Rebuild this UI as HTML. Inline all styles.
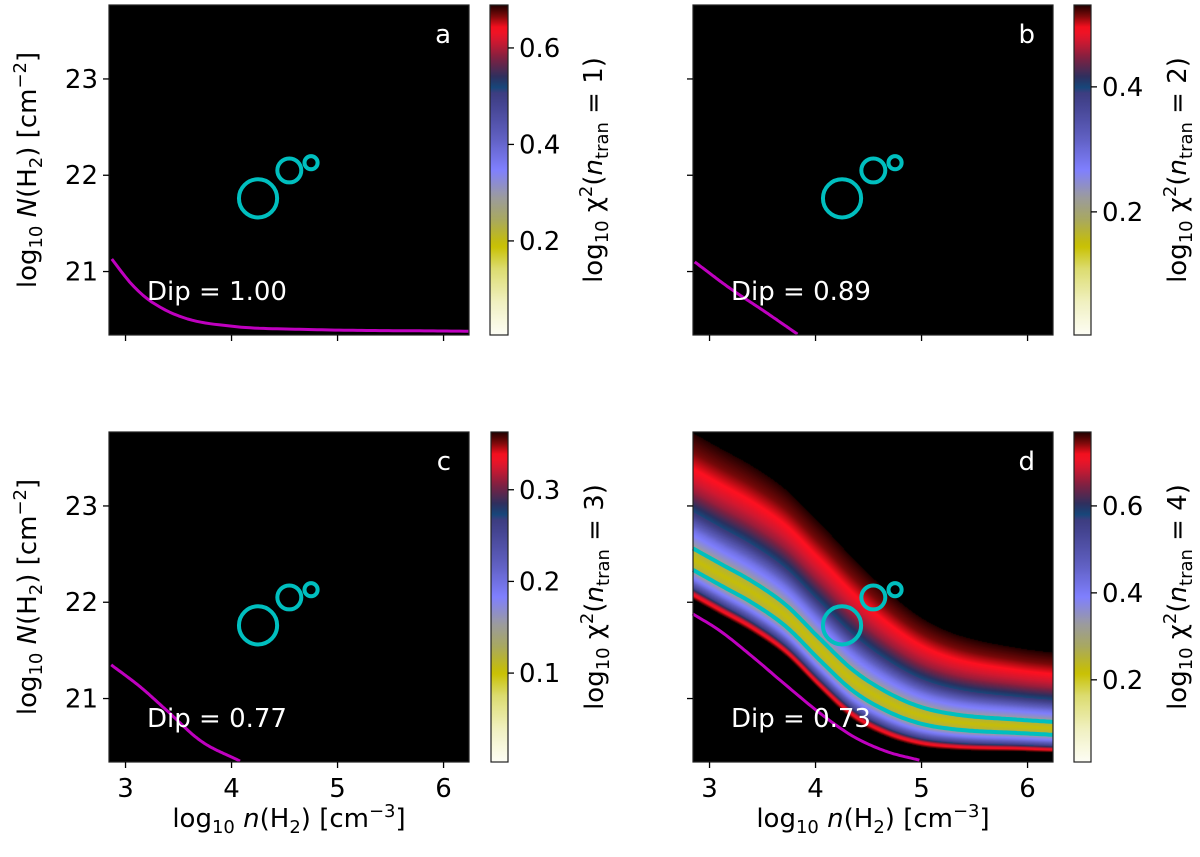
<!DOCTYPE html>
<html><head><meta charset="utf-8"><style>
body{margin:0;background:#fff;width:1200px;height:857px;overflow:hidden;position:relative;font-family:"DejaVu Sans","Liberation Sans",sans-serif}
#heat{position:absolute;left:693px;top:432px}
#chart{position:absolute;left:0;top:0}
text{font-family:"DejaVu Sans","Liberation Sans",sans-serif;fill:#000}
</style></head><body>
<canvas id="heat" width="360" height="330"></canvas>
<svg id="chart" width="1200" height="857" xmlns="http://www.w3.org/2000/svg"></svg>
<script>
// ---- data ----
const xTicks=[3,4,5,6];
const yTicks=[21,22,23];
const circleX=[4.25,4.545,4.75];
const circleN=[21.76,22.05,22.13];
const circleR=[0.18,0.113,0.062];
const magA_x=[2.87,3.06,3.24,3.55,4.02,4.65,6.24];
const magA_N=[21.13,20.865,20.69,20.52,20.43,20.40,20.38];
const magB_x=[2.86,3.2,3.5,3.83];
const magB_N=[21.1,20.82,20.6,20.35];
const magC_x=[2.865,3.14,3.39,3.71,4.08];
const magC_N=[21.35,21.12,20.875,20.56,20.35];
const magD_x=[2.84,3.09,3.41,3.72,4.04,4.35,4.67,4.98];
const magD_N=[21.88,21.71,21.43,21.14,20.85,20.61,20.45,20.36];
const dipLabels=["1.00","0.89","0.77","0.73"];
// panel d chi2 valley
const valleyX=[2.84,3.1,3.41,3.72,4.04,4.35,4.67,4.98,5.3,5.93,6.25];
const valleyN=[22.45,22.29,22.10,21.86,21.51,21.19,20.97,20.83,20.76,20.71,20.69];
const valleyScale=[1,1,1,1,1,0.97,0.88,0.78,0.7,0.62,0.6];
const aboveOff=[0,0.1,0.14,0.3,0.47,0.7,0.9,1.1,1.35];
const aboveVal=[0.22,0.26,0.33,0.42,0.57,0.66,0.71,0.745,0.775];
const belowOff=[0,0.1,0.14,0.22,0.3,0.35,0.38,0.42];
const belowVal=[0.22,0.26,0.33,0.42,0.55,0.69,0.72,0.775];
const contourLevel=0.28;
// colorbars
const cbMin=[0.005,0.003,0.003,0.011];
const cbMax=[0.689,0.531,0.363,0.77];
const cbTicks=[[0.2,0.4,0.6],[0.2,0.4],[0.1,0.2,0.3],[0.2,0.4,0.6]];
const cbTickLabels=[["0.2","0.4","0.6"],["0.2","0.4"],["0.1","0.2","0.3"],["0.2","0.4","0.6"]];
const ntran=["1","2","3","4"];
const cmapPos=[0,0.10,0.20,0.27,0.35,0.42,0.50,0.60,0.70,0.745,0.75,0.78,0.84,0.89,0.93,0.97,1];
const cmapCol=["#fdfdf5","#f0f0c0","#dcdc70","#c8c000","#a8a860","#9a9aa0","#7f7ffe","#5f5fc0","#444490","#3a3a7a","#17477a","#2a3060","#802040","#d01830","#ff1020","#700808","#200000"];

// ---- geometry ----
const XMIN=2.844,XMAX=6.24,NMIN=20.341,NMAX=23.768;
const panels=[
 {id:"a",L:109,R:469,T:5,B:335,cbL:490,cbR:508,mx:magA_x,mn:magA_N},
 {id:"b",L:693,R:1053,T:5,B:335,cbL:1074,cbR:1091,mx:magB_x,mn:magB_N},
 {id:"c",L:109,R:469,T:432,B:762,cbL:491,cbR:508,mx:magC_x,mn:magC_N},
 {id:"d",L:693,R:1053,T:432,B:762,cbL:1074,cbR:1091,mx:magD_x,mn:magD_N}
];
const svg=document.getElementById('chart');
const NS="http://www.w3.org/2000/svg";
function el(tag,attrs,parent){const e=document.createElementNS(NS,tag);for(const k in attrs)e.setAttribute(k,attrs[k]);(parent||svg).appendChild(e);return e;}
function interp(xs,ys,x){if(x<=xs[0])return ys[0];for(let i=1;i<xs.length;i++){if(x<=xs[i]){const t=(x-xs[i-1])/(xs[i]-xs[i-1]);return ys[i-1]+t*(ys[i]-ys[i-1]);}}return ys[ys.length-1];}
// monotone cubic (Fritsch-Carlson)
function smooth(xs,ys,x){
 const n=xs.length;if(n<3)return interp(xs,ys,x);
 if(x<=xs[0])return ys[0];if(x>=xs[n-1])return ys[n-1];
 const d=[],m=[];for(let i=0;i<n-1;i++)d.push((ys[i+1]-ys[i])/(xs[i+1]-xs[i]));
 m[0]=d[0];m[n-1]=d[n-2];
 for(let i=1;i<n-1;i++){m[i]=(d[i-1]*d[i]<=0)?0:(d[i-1]+d[i])/2;}
 for(let i=0;i<n-1;i++){if(d[i]===0){m[i]=0;m[i+1]=0;continue;}const a=m[i]/d[i],b=m[i+1]/d[i],s=a*a+b*b;if(s>9){const t=3/Math.sqrt(s);m[i]=t*a*d[i];m[i+1]=t*b*d[i];}}
 let i=0;while(x>xs[i+1])i++;
 const h=xs[i+1]-xs[i],t=(x-xs[i])/h,t2=t*t,t3=t2*t;
 return (2*t3-3*t2+1)*ys[i]+(t3-2*t2+t)*h*m[i]+(-2*t3+3*t2)*ys[i+1]+(t3-t2)*h*m[i+1];
}
function hex(c){return [parseInt(c.slice(1,3),16),parseInt(c.slice(3,5),16),parseInt(c.slice(5,7),16)];}
const cmapRGB=cmapCol.map(hex);
function cmap(f){f=Math.max(0,Math.min(1,f));for(let i=1;i<cmapPos.length;i++){if(f<=cmapPos[i]){const t=(f-cmapPos[i-1])/(cmapPos[i]-cmapPos[i-1]);const a=cmapRGB[i-1],b=cmapRGB[i];return [a[0]+t*(b[0]-a[0]),a[1]+t*(b[1]-a[1]),a[2]+t*(b[2]-a[2])];}}return cmapRGB[cmapRGB.length-1];}

// ---- heatmap d ----
(function(){
 const cv=document.getElementById('heat');const ctx=cv.getContext('2d');
 const w=cv.width,h=cv.height;const img=ctx.createImageData(w,h);
 const vmin=cbMin[3],vmax=cbMax[3];
 for(let i=0;i<w;i++){
  const x=XMIN+(i+0.5)/w*(XMAX-XMIN);
  const c=smooth(valleyX,valleyN,x),s=smooth(valleyX,valleyScale,x);
  const ao=aboveOff.map(o=>o*s),bo=belowOff.map(o=>o*s);
  for(let j=0;j<h;j++){
   const N=NMAX-(j+0.5)/h*(NMAX-NMIN);const off=N-c;
   const v=off>=0?interp(ao,aboveVal,off):interp(bo,belowVal,-off);
   const col=v>=vmax?[0,0,0]:cmap((v-vmin)/(vmax-vmin));
   const k=(j*w+i)*4;img.data[k]=col[0];img.data[k+1]=col[1];img.data[k+2]=col[2];img.data[k+3]=255;
  }
 }
 ctx.putImageData(img,0,0);
})();

const defs=el('defs',{});
panels.forEach((p,pi)=>{
 const g=el('linearGradient',{id:'cg'+pi,x1:0,y1:1,x2:0,y2:0},defs);
 for(let k=0;k<=60;k++){const f=k/60;const c=cmap(f);el('stop',{offset:f,'stop-color':`rgb(${c.map(Math.round).join(',')})`},g);}
});

function label(parent,x,y,parts,attrs){
 const t=el('text',Object.assign({x:x,y:y,'font-size':26},attrs||{}),parent);
 parts.forEach(pt=>{const s=el('tspan',{},t);s.textContent=pt[0];if(pt[1]==='sub'){s.setAttribute('font-size',18);s.setAttribute('dy',6);}else if(pt[1]==='sup'){s.setAttribute('font-size',18);s.setAttribute('dy',-10);}else if(pt[1]==='it'){s.setAttribute('font-style','italic');}if(pt[2])s.setAttribute('dy',pt[2]);});
 return t;
}

panels.forEach((p,pi)=>{
 const g=el('g',{});
 
 
 const sx=v=>p.L+(v-XMIN)/(XMAX-XMIN)*(p.R-p.L);
 const sy=v=>p.B-(v-NMIN)/(NMAX-NMIN)*(p.B-p.T);
 if(pi<3){const bg=el('rect',{x:p.L,y:p.T,width:p.R-p.L,height:p.B-p.T,fill:'#000'},g);
  }
 if(pi===3){
  ['upper','lower'].forEach(side=>{
   const offs=side==='upper'?aboveOff:belowOff,vals=side==='upper'?aboveVal:belowVal;
   const base=interp(vals,offs,contourLevel);
   let d='';
   for(let k=0;k<=160;k++){const x=XMIN+k/160*(XMAX-XMIN);const c=smooth(valleyX,valleyN,x),s=smooth(valleyX,valleyScale,x);
    const N=side==='upper'?c+base*s:c-base*s;d+=(k?'L':'M')+sx(x).toFixed(1)+','+sy(N).toFixed(1);}
   const pth=el('path',{d:d,fill:'none',stroke:'#00bfbf','stroke-width':4},g);
   
   
  });
 }
 // magenta curve (smoothed)
 let d='';const x0=p.mx[0],x1=p.mx[p.mx.length-1];
 for(let k=0;k<=80;k++){const x=x0+k/80*(x1-x0);d+=(k?'L':'M')+sx(x).toFixed(1)+','+sy(smooth(p.mx,p.mn,x)).toFixed(1);}
 const mp=el('path',{d:d,fill:'none',stroke:'#bf00bf','stroke-width':3,'stroke-linejoin':'round'},g);
 
 
 circleX.forEach((cx,k)=>{
  const r=circleR[k]*(p.R-p.L)/(XMAX-XMIN);
  const c=el('circle',{cx:sx(cx),cy:sy(circleN[k]),r:r,fill:'none',stroke:'#00bfbf','stroke-width':4},g);
  
  
 });
 const fr=el('rect',{x:p.L,y:p.T,width:p.R-p.L,height:p.B-p.T,fill:'none',stroke:'#222','stroke-width':1.2},g);
 
 
 xTicks.forEach(v=>{
  el('line',{x1:sx(v),x2:sx(v),y1:p.B,y2:p.B+6,stroke:'#000','stroke-width':1.3},g);
  if(pi>=2){const t=el('text',{x:sx(v),y:p.B+35,'font-size':26,'text-anchor':'middle'},g);t.textContent=String(v);
   }
 });
 yTicks.forEach(v=>{
  el('line',{x1:p.L-6,x2:p.L,y1:sy(v),y2:sy(v),stroke:'#000','stroke-width':1.3},g);
  if(pi%2===0){const t=el('text',{x:p.L-11,y:sy(v)+9,'font-size':26,'text-anchor':'end'},g);t.textContent=String(v);
   }
 });
 const lt=el('text',{x:p.R-18,y:p.T+38,'font-size':26,'text-anchor':'end',style:'fill:#fff'},g);lt.textContent=p.id;
 
 const dt=el('text',{x:p.L+38,y:p.B-35,'font-size':26,style:'fill:#fff'},g);dt.textContent='Dip = '+dipLabels[pi];
 
 const cb=el('g',{},g);
 
 
 el('rect',{x:p.cbL,y:p.T,width:p.cbR-p.cbL,height:p.B-p.T,fill:`url(#cg${pi})`,stroke:'#222','stroke-width':1.2},cb);
 const cy=v=>p.B-(v-cbMin[pi])/(cbMax[pi]-cbMin[pi])*(p.B-p.T);
 cbTicks[pi].forEach((v,k)=>{
  el('line',{x1:p.cbR,x2:p.cbR+6,y1:cy(v),y2:cy(v),stroke:'#000','stroke-width':1.3},cb);
  const t=el('text',{x:p.cbR+11,y:cy(v)+9,'font-size':26},cb);t.textContent=cbTickLabels[pi][k];
  
 });
 const lx=p.cbL+112,ly=(p.T+p.B)/2;
 const cl=label(cb,0,0,[["log"],["10",'sub'],[" χ",null,-6],["2",'sup'],["(",null,10],["n",'it'],["tran",'sub'],[" = "+ntran[pi]+")",null,-6]],{'text-anchor':'middle',transform:`translate(${lx},${ly}) rotate(-90)`});
 
 if(pi%2===0){
  const yl=label(g,0,0,[["log"],["10",'sub'],[" ",null,-6],["N",'it'],["(H"],["2",'sub'],[") [cm",null,-6],["−2",'sup'],["]",null,10]],{'text-anchor':'middle',transform:`translate(36,${(p.T+p.B)/2}) rotate(-90)`});
  
 }
 if(pi>=2){
  const xl=label(g,(p.L+p.R)/2,p.B+65,[["log"],["10",'sub'],[" ",null,-6],["n",'it'],["(H"],["2",'sub'],[") [cm",null,-6],["−3",'sup'],["]",null,10]],{'text-anchor':'middle'});
  
 }
});
</script>
</body></html>
